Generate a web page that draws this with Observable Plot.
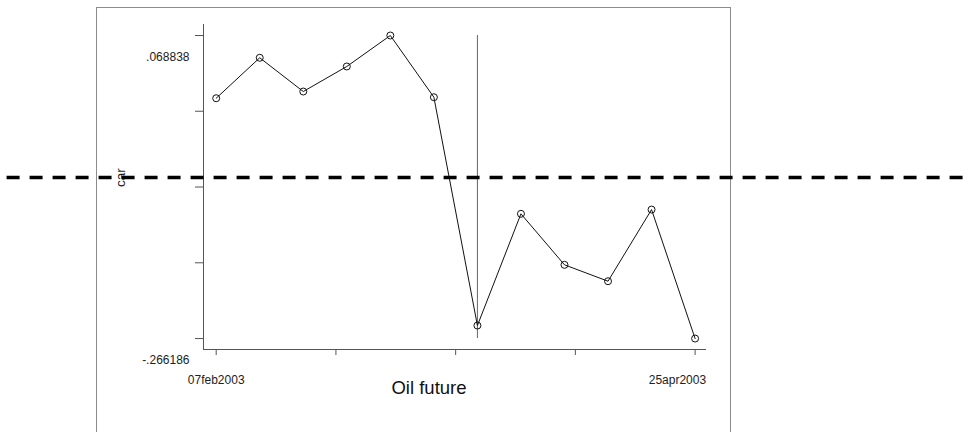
<!DOCTYPE html>
<html>
<head>
<meta charset="utf-8">
<script src="https://cdn.jsdelivr.net/npm/d3@7"></script>
<script src="https://cdn.jsdelivr.net/npm/@observablehq/plot@0.6"></script>
<style>
  html, body { margin: 0; padding: 0; background: #fff; }
  #wrap { position: relative; width: 971px; height: 432px; overflow: hidden; }
  #box { position: absolute; left: 96px; top: 7px; width: 635px; height: 460px; border: 1px solid #8c8c8c; box-sizing: border-box; }
  #chart { position: absolute; left: 0; top: 0; }
  svg { font-family: "Liberation Sans", Arial, sans-serif; }
</style>
</head>
<body>
<div id="wrap"><div id="box"></div><div id="chart"></div></div>
<script>
// Weekly observations of "car" for the oil future
const dates = ["2003-02-07","2003-02-14","2003-02-21","2003-02-28","2003-03-07","2003-03-14",
               "2003-03-21","2003-03-28","2003-04-04","2003-04-11","2003-04-18","2003-04-25"];
const car = [-0.0005, 0.0442, 0.0069, 0.0346, 0.068838, 0.0006,
             -0.2518, -0.1283, -0.1847, -0.2028, -0.1236, -0.266186];

// Axis definitions
const yMin = -0.266186, yMax = 0.068838;
const yTicks = [-0.266186, -0.18243, -0.098674, -0.014918, 0.068838];
const yTickLabels = ["-.266186", "", "", "", ".068838"];
const xTicks = ["2003-02-07T00:00Z","2003-02-26T06:00Z","2003-03-17T12:00Z","2003-04-05T18:00Z","2003-04-25T00:00Z"];
const xTickLabels = ["07feb2003", "", "", "", "25apr2003"];
const xDomain = ["2003-02-04T23:00Z", "2003-04-26T20:00Z"];
const yDomain = [-0.2783, 0.0810];
const eventDate = "2003-03-21";
const dashLevel = -0.0882;
const dashSpan = ["2003-01-01", "2003-07-15"];
const xTitle = "Oil future";
const yTitle = "car";

const data = dates.map((d, i) => ({date: new Date(d), car: car[i]}));
const xt = xTicks.map(d => new Date(d));

const chart = Plot.plot({
  width: 971,
  height: 432,
  marginLeft: 203,
  marginRight: 265,
  marginTop: 24,
  marginBottom: 83,
  style: {fontFamily: "Liberation Sans, Arial, sans-serif", fontSize: "12px", color: "#222", background: "transparent", overflow: "visible"},
  x: {type: "utc", domain: xDomain.map(d => new Date(d)), axis: null},
  y: {domain: yDomain, axis: null},
  marks: [
    // axis lines
    Plot.ruleX([new Date(xDomain[0])], {stroke: "#555", strokeWidth: 1}),
    Plot.ruleY([yDomain[0]], {stroke: "#555", strokeWidth: 1}),
    // ticks
    Plot.axisY({ticks: yTicks, tickSize: 8, tickFormat: () => "", stroke: "#555", strokeOpacity: 1}),
    Plot.axisX({ticks: xt, tickSize: 6, tickFormat: () => "", stroke: "#555", strokeOpacity: 1}),
    // y tick labels
    Plot.text(yTicks.map((v, i) => ({v, label: yTickLabels[i]})).filter(d => d.label), {
      y: "v", text: "label", frameAnchor: "left", textAnchor: "end", dx: -14, dy: 22,
      fontSize: 12, fill: "#222"}),
    // x tick labels
    Plot.text([{d: xt[0], label: xTickLabels[0]}], {
      x: "d", text: "label", frameAnchor: "bottom", dy: 34, textAnchor: "middle", fontSize: 12, fill: "#222"}),
    Plot.text([{d: xt[4], label: xTickLabels[4]}], {
      x: "d", text: "label", frameAnchor: "bottom", dy: 34, dx: 11, textAnchor: "end", fontSize: 12, fill: "#222"}),
    // titles
    Plot.text([xTitle], {frameAnchor: "bottom", dy: 44, dx: -26, fontSize: 18.5, fill: "#111"}),
    Plot.text([yTitle], {frameAnchor: "left", dx: -83, rotate: -90, fontSize: 13.5, fill: "#222"}),
    // event line
    Plot.ruleX([new Date(eventDate)], {y1: yMax, y2: yMin, stroke: "#666", strokeWidth: 1}),
    // series
    Plot.line(data, {x: "date", y: "car", stroke: "#111", strokeWidth: 1}),
    Plot.dot(data, {x: "date", y: "car", r: 3.5, stroke: "#111", strokeWidth: 1, fill: "none"}),
    // dashed reference line
    Plot.ruleY([dashLevel], {x1: new Date(dashSpan[0]), x2: new Date(dashSpan[1]),
      stroke: "#000", strokeWidth: 3.5, strokeDasharray: "13,10", strokeDashoffset: 2})
  ]
});
document.getElementById("chart").appendChild(chart);
</script>
</body>
</html>
